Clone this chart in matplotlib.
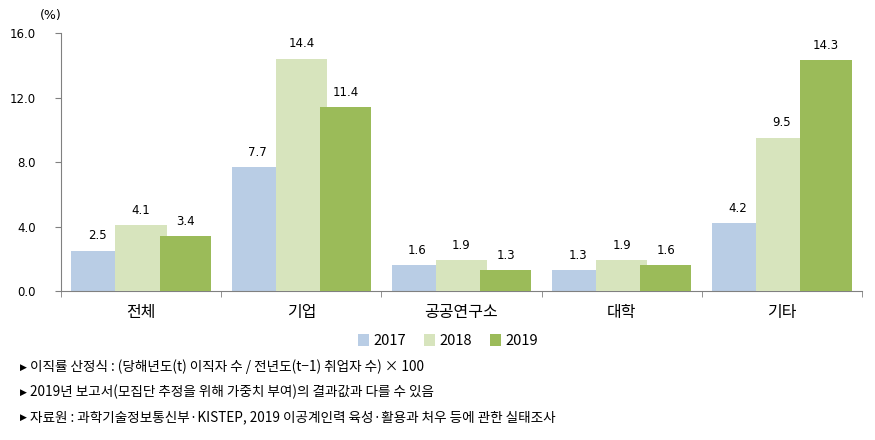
import numpy as np
import matplotlib.pyplot as plt

plt.rcParams['font.family'] = ['Noto Sans CJK KR', 'DejaVu Sans']

categories = ['전체', '기업', '공공연구소', '대학', '기타']
years = ['2017', '2018', '2019']
v2017 = [2.5, 7.7, 1.6, 1.3, 4.2]
v2018 = [4.1, 14.4, 1.9, 1.9, 9.5]
v2019 = [3.4, 11.4, 1.3, 1.6, 14.3]
colors = ['#B9CDE5', '#D7E4BD', '#9BBB59']
notes = [
    '이직률 산정식 : (당해년도(t) 이직자 수 / 전년도(t−1) 취업자 수) × 100',
    '2019년 보고서(모집단 추정을 위해 가중치 부여)의 결과값과 다를 수 있음',
    '자료원 : 과학기술정보통신부·KISTEP, 2019 이공계인력 육성·활용과 처우 등에 관한 실태조사',
]

fig = plt.figure(figsize=(8.75, 4.4), dpi=100)
ax = fig.add_axes([61/875, (440-291)/440, (862-61)/875, (291-33)/440])

x = np.arange(len(categories))
step = 0.275
width = 0.32
for i, (vals, col, yr) in enumerate(zip([v2017, v2018, v2019], colors, years)):
    pos = x + (i - 1) * step
    ax.bar(pos, vals, width=width, color=col, label=yr, zorder=2 + i)
    for p, v in zip(pos, vals):
        ax.annotate(f'{v:.1f}', (p, v), xytext=(0, 6), textcoords='offset points',
                    ha='center', va='bottom', fontsize=8.5, family='DejaVu Sans')

ax.set_xlim(-0.5, len(categories) - 0.5)
ax.set_ylim(0, 16)
ax.set_yticks([0, 4, 8, 12, 16])
ax.set_yticklabels([f'{t:.1f}' for t in [0, 4, 8, 12, 16]], family='DejaVu Sans', fontsize=8.5)
ax.set_xticks(x)
ax.set_xticklabels(categories, fontsize=11.5)
ax.tick_params(axis='x', length=0, pad=9)
ax.tick_params(axis='y', length=4, color='#808080', pad=14)
ax.set_xticks(np.arange(len(categories) + 1) - 0.5, minor=True)
ax.tick_params(axis='x', which='minor', length=4, color='#808080')
for s in ['top', 'right']:
    ax.spines[s].set_visible(False)
for s in ['left', 'bottom']:
    ax.spines[s].set_color('#808080')

fig.text(40/875, 1 - 15/440, '(%)', fontsize=9, va='center', family='DejaVu Sans')

fig.legend(loc='center', bbox_to_anchor=(448/875, 1 - 341/440), ncol=3, frameon=False,
           fontsize=10.5, handlelength=0.8, handleheight=0.8, handletextpad=0.3,
           columnspacing=1.2)

for j, n in enumerate(notes):
    yy = 1 - (367 + j * 25)/440
    fig.text(20/875, yy, '▶', fontsize=6.5, va='center', family='DejaVu Sans')
    fig.text(30/875, yy, n, fontsize=9.8, va='center')

fig.savefig('out.png', dpi=100)
